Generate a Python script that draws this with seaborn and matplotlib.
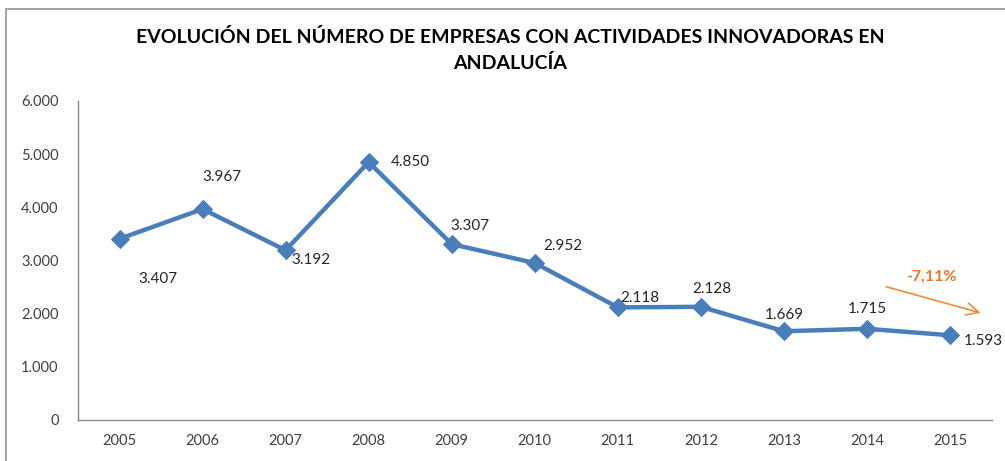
import matplotlib
matplotlib.use("Agg")
import matplotlib.pyplot as plt
import matplotlib.patches as mpatches
import seaborn as sns
import pandas as pd

# datos
years = ["2005", "2006", "2007", "2008", "2009", "2010", "2011", "2012", "2013", "2014", "2015"]
empresas = [3407, 3967, 3192, 4850, 3307, 2952, 2118, 2128, 1669, 1715, 1593]
etiquetas = ["3.407", "3.967", "3.192", "4.850", "3.307", "2.952", "2.118", "2.128", "1.669", "1.715", "1.593"]
yticks = [0, 1000, 2000, 3000, 4000, 5000, 6000]
ytick_labels = ["0", "1.000", "2.000", "3.000", "4.000", "5.000", "6.000"]
variacion = "-7,11%"

# desplazamiento de las etiquetas en puntos (x, y)
offsets = [(28, -29), (14, 23), (18, -7), (30, 0), (13, 13), (20, 12),
           (16, 7), (8, 13), (0, 12), (0, 14), (24, -4)]

df = pd.DataFrame({"year": years, "n": empresas})

sns.set_style("white")
plt.rcParams["font.family"] = ["Lato", "DejaVu Sans"]

fig = plt.figure(figsize=(10.05, 4.61), dpi=100)
ax = fig.add_axes([0.0776, 0.089, 0.909, 0.692])

blue = "#4A7EBB"
sns.lineplot(data=df, x="year", y="n", ax=ax, color=blue, linewidth=3.2,
             marker="D", markersize=9, markeredgecolor=blue, sort=False)

for i, (v, t) in enumerate(zip(empresas, etiquetas)):
    ax.annotate(t, (i, v), xytext=offsets[i], textcoords="offset points",
                ha="center", va="center", fontsize=11, color="#262626",
                annotation_clip=False)

ax.set_xlim(-0.5, 10.5)
ax.set_ylim(0, 6000)
ax.set_yticks(yticks)
ax.set_yticklabels(ytick_labels)
ax.set_xlabel("")
ax.set_ylabel("")
ax.tick_params(axis="both", length=0, labelsize=10.5, colors="#404040")
ax.tick_params(axis="y", pad=14)
ax.tick_params(axis="x", pad=10)
for s in ["top", "right"]:
    ax.spines[s].set_visible(False)
for s in ["left", "bottom"]:
    ax.spines[s].set_color("#868686")
    ax.spines[s].set_linewidth(1)

# flecha de variacion
orange = "#F08B3A"
ax.annotate("", xy=(10.4, 2000), xytext=(9.2, 2520),
            arrowprops=dict(arrowstyle="->", color=orange, lw=1.2, mutation_scale=22))
ax.text(9.78, 2700, variacion, color="#E8782C", fontsize=11.5, fontweight="bold",
        ha="center", va="center")

fig.suptitle("EVOLUCIÓN DEL NÚMERO DE EMPRESAS CON ACTIVIDADES INNOVADORAS EN\nANDALUCÍA",
             x=0.508, y=0.94, fontsize=14, fontweight="bold", color="#000000",
             linespacing=1.55)

# marco del grafico
fig.patches.append(mpatches.Rectangle((0.006, -0.1), 1.1, 1.08, transform=fig.transFigure,
                                      fill=False, edgecolor="#A6A6A6", linewidth=1.5))

fig.savefig("out.png", dpi=100)
